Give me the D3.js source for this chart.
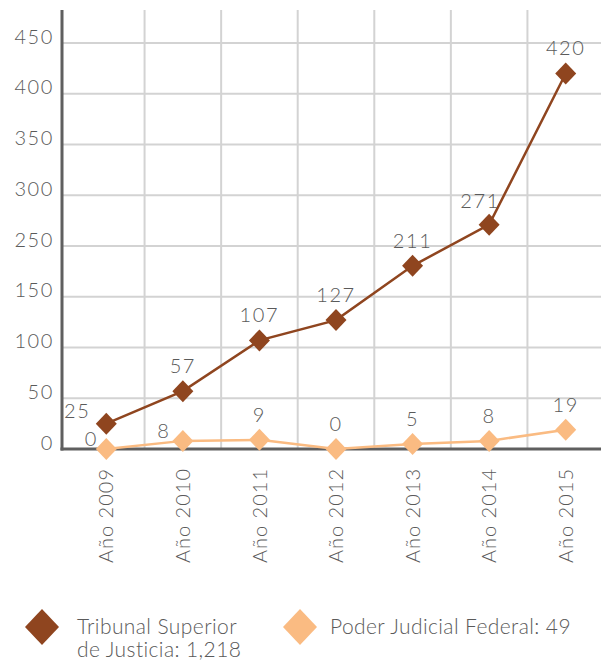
<!DOCTYPE html>
<html>
<head>
<meta charset="utf-8">
<script src="https://cdn.jsdelivr.net/npm/d3@7"></script>
<style>
  html, body { margin: 0; padding: 0; background: #fff; }
  svg { display: block; }
  text { font-family: Lato, "Open Sans", sans-serif; font-weight: 300; fill: #5a5a5a; }
</style>
</head>
<body>
<svg id="chart" width="601" height="661"></svg>
<script>
// ---- data ----
const years = ["Año 2009", "Año 2010", "Año 2011", "Año 2012", "Año 2013", "Año 2014", "Año 2015"];
const tribunal = [25, 57, 107, 127, 211, 271, 420];
const poder = [0, 8, 9, 0, 5, 8, 19];
const yTicks = [0, 50, 100, 150, 250, 300, 350, 400, 450];
const seriesNames = ["Tribunal Superior|de Justicia: 1,218", "Poder Judicial Federal: 49"];
const colors = ["#8f451f", "#fabb82"];

(function () {
// ---- layout ----
const W = 601;
const mLeft = 62, mTop = 10, mBottom = 449, step = 50.75;
const svg = d3.select("#chart");

const x = d3.scaleBand().domain(years).range([68, 604]).padding(0);
const cx = d => x(d) + x.bandwidth() / 2;
const y = d3.scaleLinear()
  .domain(yTicks)
  .range(yTicks.map((d, i) => mBottom - i * step));

// grid
const grid = svg.append("g");
grid.selectAll("line.h").data(yTicks.slice(1)).join("line")
  .attr("x1", mLeft).attr("x2", W)
  .attr("y1", d => y(d)).attr("y2", d => y(d))
  .attr("stroke", "#d3d3d3").attr("stroke-width", 2);
grid.selectAll("line.v").data(years.slice(1)).join("line")
  .attr("x1", d => x(d)).attr("x2", d => x(d))
  .attr("y1", mTop).attr("y2", mBottom)
  .attr("stroke", "#d3d3d3").attr("stroke-width", 2);

// y axis
const yAxis = svg.append("g").attr("transform", `translate(${mLeft},0)`)
  .call(d3.axisLeft(y).tickValues(yTicks).tickSize(0).tickPadding(8).tickFormat(d3.format("d")));
yAxis.select(".domain").remove();
yAxis.selectAll("text").attr("dy", 0).style("font-size", "20px")
  .style("letter-spacing", "1.6px").style("font-family", "Lato, 'Open Sans', sans-serif")
  .style("font-weight", 300).attr("fill", "#5a5a5a");

// x axis labels
const xAxis = svg.append("g").attr("transform", `translate(0,${mBottom})`)
  .call(d3.axisBottom(x).tickSize(0).tickPadding(0));
xAxis.select(".domain").remove();
xAxis.selectAll("text")
  .attr("transform", "translate(0,19) rotate(-90)")
  .attr("x", 0).attr("y", 0).attr("dy", "0.36em")
  .style("text-anchor", "end").style("font-size", "20px").style("letter-spacing", "1px")
  .style("font-family", "Lato, 'Open Sans', sans-serif")
  .style("font-weight", 300).attr("fill", "#5a5a5a");

// axis lines
svg.append("line").attr("x1", mLeft).attr("x2", mLeft).attr("y1", mTop).attr("y2", mBottom + 1.5)
  .attr("stroke", "#5f5f5f").attr("stroke-width", 3);
svg.append("line").attr("x1", mLeft - 1.5).attr("x2", W).attr("y1", mBottom).attr("y2", mBottom)
  .attr("stroke", "#5f5f5f").attr("stroke-width", 3);

// diamond path
const diamond = (w, h) => `M0,${-h / 2}L${w / 2},0L0,${h / 2}L${-w / 2},0Z`;

const series = [tribunal, poder];
const line = d3.line().x((d, i) => cx(years[i])).y(d => y(d));

// draw Poder first (below), then Tribunal
[1, 0].forEach(s => {
  const vals = series[s];
  svg.append("path").datum(vals).attr("d", line)
    .attr("fill", "none").attr("stroke", colors[s]).attr("stroke-width", 2.5);
  svg.append("g").selectAll("path").data(vals).join("path")
    .attr("d", diamond(21, 22))
    .attr("transform", (d, i) => `translate(${cx(years[i])},${y(d)})`)
    .attr("fill", colors[s]);
});

// value labels
const labelPos = (s, i) => {
  if (s === 0 && i === 0) return { dx: -29, dy: -6 };
  if (s === 1 && i === 0) return { dx: -15, dy: -3 };
  if (s === 1 && i === 1) return { dx: -19, dy: -3 };
  if (s === 0 && i === 5) return { dx: -9, dy: -17 };
  return { dx: 0, dy: -18 };
};
series.forEach((vals, s) => {
  svg.append("g").selectAll("text").data(vals).join("text")
    .attr("x", (d, i) => cx(years[i]) + labelPos(s, i).dx)
    .attr("y", (d, i) => y(d) + labelPos(s, i).dy)
    .attr("text-anchor", "middle")
    .style("font-size", "20px").style("letter-spacing", "1.6px")
    .text(d => d);
});

// legend
const legend = [
  { cx: 42, tx: 77 },
  { cx: 300, tx: 330 }
];
seriesNames.forEach((name, s) => {
  const g = svg.append("g");
  g.append("path").attr("d", diamond(34, 36))
    .attr("transform", `translate(${legend[s].cx},627)`).attr("fill", colors[s]);
  const t = g.append("text").attr("x", legend[s].tx).attr("y", 634)
    .style("font-size", "21px").style("letter-spacing", "0.4px");
  name.split("|").forEach((ln, k) => {
    t.append("tspan").attr("x", legend[s].tx).attr("dy", k === 0 ? 0 : 23).text(ln);
  });
});
})();
</script>
</body>
</html>
